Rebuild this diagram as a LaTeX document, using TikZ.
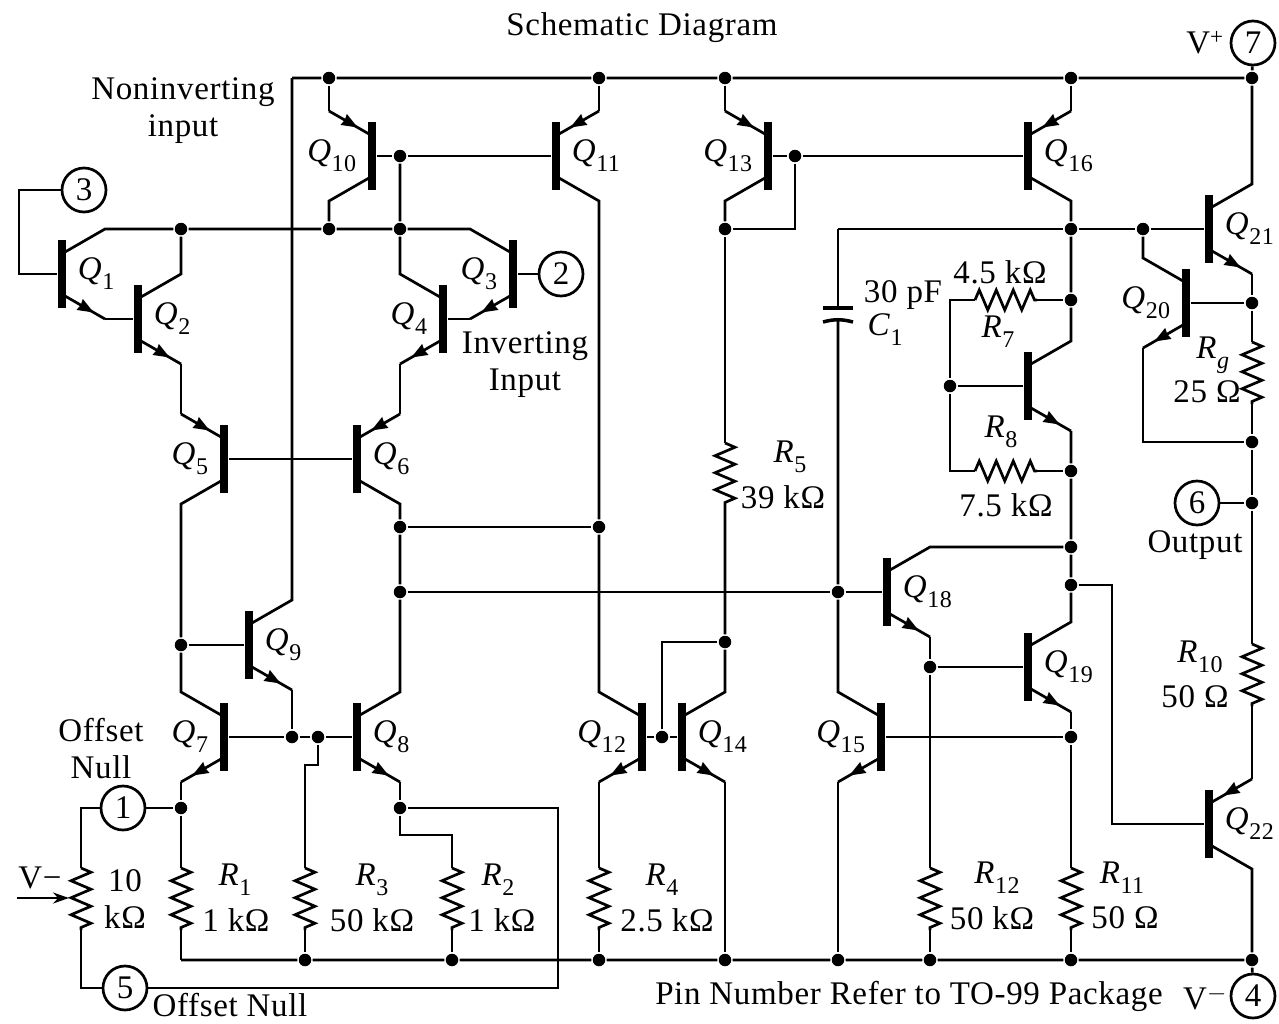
\documentclass[tikz,border=0pt]{standalone}
\usepackage{fontspec}
\setmainfont[LetterSpace=2]{Liberation Serif}
\usetikzlibrary{arrows.meta, decorations.markings, decorations.pathmorphing, positioning}
\tikzset{
    qbar/.style={rectangle, fill=black, minimum width=7.5pt, minimum height=68pt, inner sep=0pt},
    dot/.style={circle, fill=black, minimum size=12.5pt, inner sep=0pt},
    pinc/.style={circle, draw, fill=white, minimum size=44pt, inner sep=0pt},
    res/.style={decorate, decoration={zigzag, segment length=17pt, amplitude=10pt}},
    emit/.style={postaction={decorate}, decoration={markings, mark=at position .72 with {\arrow{Stealth[length=16pt,width=12pt,inset=1pt]}}}}
}
\newcommand{\qbar}[4]{
    \node[qbar] (#1) at (#2,#3) {};
    \coordinate (#1t) at (#2+#4*3,#3-22);
    \coordinate (#1u) at (#2+#4*43,#3-45);
    \coordinate (#1s) at (#2+#4*3,#3+22);
    \coordinate (#1d) at (#2+#4*43,#3+45);
}
\newcommand{\subs}[2]{\textit{#1}\raisebox{-.3em}{\fontsize{24}{24}\selectfont #2}}
\begin{document}
\begin{tikzpicture}[x=1pt, y=-1pt, line width=2.7pt, font=\fontsize{33}{37}\selectfont]
    \useasboundingbox (0,0) rectangle (1279,1023);

    \qbar{Q1}{62}{274}{1} \qbar{Q2}{138}{319}{1} \qbar{Q3}{513}{274}{-1} \qbar{Q4}{443}{319}{-1}
    \qbar{Q5}{224}{459}{-1} \qbar{Q6}{357}{459}{1} \qbar{Q7}{224}{737}{-1} \qbar{Q8}{357}{737}{1}
    \qbar{Q9}{249}{645}{1} \qbar{Q10}{372}{156}{-1} \qbar{Q11}{556}{156}{1} \qbar{Q12}{642}{737}{-1}
    \qbar{Q13}{768}{156}{-1} \qbar{Q14}{682}{737}{1} \qbar{Q15}{881}{737}{-1} \qbar{Q16}{1028}{156}{1}
    \qbar{Q17}{1028}{386}{1} \qbar{Q18}{887}{592}{1} \qbar{Q19}{1028}{667}{1} \qbar{Q20}{1186}{303}{-1}
    \qbar{Q21}{1209}{229}{1} \qbar{Q22}{1209}{824}{1}

    \foreach \n/\x/\y in {tA/329/78, tB/599/78, tC/725/78, tD/1071/78, tE/1252/78,
        bA/305/960, bB/452/960, bC/599/960, bD/725/960, bE/838/960, bF/930/960, bG/1071/960, bH/1252/960,
        nA/181/229, nB/329/229, nC/400/229, nD/725/229, nE/1071/229, nF/1143/229,
        dBase/400/156, dMirror/795/156, dLoadA/400/527, dLoadB/400/592, dLoadC/599/527,
        dNine/181/645, dBaseA/292/737, dBaseB/318/737, dNullA/181/808, dNullB/400/808,
        dFive/725/642, dPair/662/737, dComp/838/592, dDrive/930/667, dFeed/1071/300, dBias/950/386,
        dFeedB/1071/471, dTop/1071/547, dOut/1071/585, dSense/1071/737,
        dRgA/1252/303, dRgB/1252/442, dSix/1252/503}
        \node[dot] (\n) at (\x,\y) {};

    \foreach \n/\x in {P/81, 1/181, 3/305, 2/452, 4/599, 12/930, 11/1071} {
        \coordinate (r\n a) at (\x,868);
        \coordinate (r\n b) at (\x,930);
    }
    \coordinate (r5a) at (725,443);
    \coordinate (r5b) at (725,505);
    \coordinate (r7a) at (975,300);
    \coordinate (r7b) at (1037,300);
    \coordinate (r8a) at (975,471);
    \coordinate (r8b) at (1037,471);
    \coordinate (rga) at (1252,342);
    \coordinate (rgb) at (1252,404);
    \coordinate (r10a) at (1252,644);
    \coordinate (r10b) at (1252,706);

    \node[pinc] (pin3) at (84,190) {3};
    \node[pinc] (pin2) at (561,274) {2};
    \node[pinc] (pin1) at (123,808) {1};
    \node[pinc] (pin5) at (125,988) {5};
    \node[pinc] (pin7) at (1253,43) {7};
    \node[pinc] (pin6) at (1197,503) {6};
    \node[pinc] (pin4) at (1253,996) {4};

    \coordinate (railT) at (292,78);
    \coordinate (railB) at (181,960);
    \coordinate (inA) at (19,274);
    \coordinate (inB) at (19,190);
    \coordinate (gateA) at (662,642);
    \coordinate (gateB) at (795,229);
    \coordinate (capT) at (838,229);
    \coordinate (capA) at (838,308);
    \coordinate (capB) at (838,321);
    \coordinate (capC) at (823,308);
    \coordinate (capD) at (853,308);
    \coordinate (capE) at (823,322);
    \coordinate (capF) at (853,322);
    \coordinate (fbA) at (950,300);
    \coordinate (fbB) at (950,471);
    \coordinate (outA) at (1112,585);
    \coordinate (outB) at (1112,824);
    \coordinate (sixA) at (1143,442);
    \coordinate (potA) at (81,808);
    \coordinate (potB) at (81,988);
    \coordinate (nullA) at (558,988);
    \coordinate (nullB) at (558,808);
    \coordinate (twoA) at (400,835);
    \coordinate (twoB) at (452,835);
    \coordinate (threeA) at (318,765);
    \coordinate (threeB) at (305,765);
    \coordinate (wiperA) at (17,898);
    \coordinate (wiperB) at (69,898);

    \draw (railT) -- (tA) -- (tB) -- (tC) -- (tD) -- (tE) -- (pin7);
    \draw (railB) -- (bA) -- (bB) -- (bC) -- (bD) -- (bE) -- (bF) -- (bG) -- (bH) -- (pin4);
    \draw (Q1t) -- (Q1u) -- (nA) -- (nB) -- (nC) -- (Q3u) -- (Q3t);
    \draw (Q1) -- (inA) -- (inB) -- (pin3);
    \draw (Q1d) -- (Q2);
    \draw (Q2t) -- (Q2u) -- (nA);
    \draw (Q2d) -- (Q5u);
    \draw (Q5) -- (Q6);
    \draw (Q5s) -- (Q5d) -- (dNine) -- (Q7u) -- (Q7t);
    \draw (dNine) -- (Q9);
    \draw (Q9t) -- (Q9u) -- (railT);
    \draw (Q9d) -- (dBaseA);
    \draw (Q7) -- (dBaseA) -- (dBaseB) -- (Q8);
    \draw (Q7d) -- (dNullA);
    \draw (Q8t) -- (Q8u) -- (dLoadB) -- (dLoadA) -- (Q6d) -- (Q6s);
    \draw (Q6u) -- (Q4d);
    \draw (Q4t) -- (Q4u) -- (nC) -- (dBase);
    \draw (Q4) -- (Q3d);
    \draw (Q3) -- (pin2);
    \draw (tA) -- (Q10u);
    \draw (Q10) -- (dBase) -- (Q11);
    \draw (Q10s) -- (Q10d) -- (nB);
    \draw (tB) -- (Q11u);
    \draw (Q11s) -- (Q11d) -- (dLoadC) -- (Q12u) -- (Q12t);
    \draw (dLoadA) -- (dLoadC);
    \draw (dLoadB) -- (dComp) -- (Q18);
    \draw (Q12) -- (dPair) -- (Q14);
    \draw (Q12d) -- (r4a);
    \draw (dPair) -- (gateA) -- (dFive);
    \draw (Q14t) -- (Q14u) -- (dFive) -- (r5b);
    \draw (r5a) -- (nD);
    \draw (Q14d) -- (bD);
    \draw (tC) -- (Q13u);
    \draw (Q13) -- (dMirror) -- (Q16);
    \draw (dMirror) -- (gateB) -- (nD);
    \draw (Q13s) -- (Q13d) -- (nD);
    \draw (tD) -- (Q16u);
    \draw (Q16s) -- (Q16d) -- (nE);
    \draw (capT) -- (nE) -- (nF) -- (Q21);
    \draw (capT) -- (capA);
    \draw[line width=3.5pt] (capC) -- (capD);
    \draw[line width=3.5pt] (capE) to[bend left=15] (capF);
    \draw (capB) -- (dComp) -- (Q15u) -- (Q15t);
    \draw (Q15) -- (dSense);
    \draw (Q15d) -- (bE);
    \draw (nE) -- (dFeed) -- (Q17u) -- (Q17t);
    \draw (Q17d) -- (dFeedB) -- (dTop) -- (dOut) -- (Q19u) -- (Q19t);
    \draw (dFeed) -- (r7b);
    \draw (r7a) -- (fbA) -- (dBias) -- (fbB) -- (r8a);
    \draw (r8b) -- (dFeedB);
    \draw (dBias) -- (Q17);
    \draw (Q18t) -- (Q18u) -- (dTop);
    \draw (Q18d) -- (dDrive) -- (r12a);
    \draw (dDrive) -- (Q19);
    \draw (r12b) -- (bF);
    \draw (Q19d) -- (dSense) -- (r11a);
    \draw (r11b) -- (bG);
    \draw (dOut) -- (outA) -- (outB) -- (Q22);
    \draw (Q21t) -- (Q21u) -- (tE);
    \draw (Q21d) -- (dRgA) -- (rga);
    \draw (rgb) -- (dRgB) -- (dSix) -- (r10a);
    \draw (r10b) -- (Q22u);
    \draw (Q22s) -- (Q22d) -- (bH);
    \draw (nF) -- (Q20u) -- (Q20t);
    \draw (Q20) -- (dRgA);
    \draw (Q20d) -- (sixA) -- (dRgB);
    \draw (pin6) -- (dSix);
    \draw (pin1) -- (dNullA) -- (r1a);
    \draw (r1b) -- (railB);
    \draw (pin1) -- (potA) -- (rPa);
    \draw (rPb) -- (potB) -- (pin5);
    \draw (pin5) -- (nullA) -- (nullB) -- (dNullB);
    \draw (Q8d) -- (dNullB) -- (twoA) -- (twoB) -- (r2a);
    \draw (r2b) -- (bB);
    \draw (dBaseB) -- (threeA) -- (threeB) -- (r3a);
    \draw (r3b) -- (bA);
    \draw (r4b) -- (bC);
    \draw[-{Stealth[length=16pt,width=11pt]}] (wiperA) -- (wiperB);

    \foreach \n in {P,1,2,3,4,5,7,8,10,11,12} \draw[res] (r\n a) -- (r\n b);
    \draw[res] (rga) -- (rgb);

    \draw[emit] (Q1s) -- (Q1d);
    \draw[emit] (Q2s) -- (Q2d);
    \draw[emit] (Q3s) -- (Q3d);
    \draw[emit] (Q4s) -- (Q4d);
    \draw[emit] (Q7s) -- (Q7d);
    \draw[emit] (Q8s) -- (Q8d);
    \draw[emit] (Q9s) -- (Q9d);
    \draw[emit] (Q12s) -- (Q12d);
    \draw[emit] (Q14s) -- (Q14d);
    \draw[emit] (Q15s) -- (Q15d);
    \draw[emit] (Q17s) -- (Q17d);
    \draw[emit] (Q18s) -- (Q18d);
    \draw[emit] (Q19s) -- (Q19d);
    \draw[emit] (Q20s) -- (Q20d);
    \draw[emit] (Q21s) -- (Q21d);
    \draw[emit] (Q5u) -- (Q5t);
    \draw[emit] (Q6u) -- (Q6t);
    \draw[emit] (Q10u) -- (Q10t);
    \draw[emit] (Q11u) -- (Q11t);
    \draw[emit] (Q13u) -- (Q13t);
    \draw[emit] (Q16u) -- (Q16t);
    \draw[emit] (Q22u) -- (Q22t);

    \foreach \n in {1,2,6,8,9,11,14,16,18,19,21,22}
        \node[right=6pt of Q\n] (lQ\n) {\subs{Q}{\n}};
    \foreach \n in {3,4,5,7,10,12,13,15,20}
        \node[left=6pt of Q\n] (lQ\n) {\subs{Q}{\n}};

    \node (title) at (642,28) {Schematic Diagram};
    \node[align=center] (noninv) at (183,111) {Noninverting\\input};
    \node[align=center] (inv) at (525,365) {Inverting\\Input};
    \node[align=center] (nullL) at (101,749) {Offset\\Null};
    \node (nullR) at (230,1005) {Offset Null};
    \node (vminusL) at (40,878) {V−};
    \node[align=center] (potval) at (125,899) {10\\kΩ};
    \node (lR1) at (235,880) {\subs{R}{1}};
    \node (vR1) at (236,920) {1 kΩ};
    \node (lR3) at (372,880) {\subs{R}{3}};
    \node (vR3) at (372,920) {50 kΩ};
    \node (lR2) at (498,880) {\subs{R}{2}};
    \node (vR2) at (502,920) {1 kΩ};
    \node (lR4) at (662,880) {\subs{R}{4}};
    \node (vR4) at (667,920) {2.5 kΩ};
    \node (lR5) at (790,457) {\subs{R}{5}};
    \node (vR5) at (783,497) {39 kΩ};
    \node (vC1) at (903,295) {30 pF};
    \node (lC1) at (885,330) {\subs{C}{1}};
    \node (vR7) at (1000,272) {4.5 kΩ};
    \node (lR7) at (998,332) {\subs{R}{7}};
    \node (lR8) at (1001,432) {\subs{R}{8}};
    \node (vR8) at (1006,505) {7.5 kΩ};
    \node (lRg) at (1213,355) {\subs{R}{\textit{g}}};
    \node (vRg) at (1207,392) {25 Ω};
    \node (output) at (1195,545) {Output};
    \node (lR10) at (1200,657) {\subs{R}{10}};
    \node (vR10) at (1195,697) {50 Ω};
    \node (lR12) at (997,878) {\subs{R}{12}};
    \node (vR12) at (992,918) {50 kΩ};
    \node (lR11) at (1122,878) {\subs{R}{11}};
    \node (vR11) at (1125,918) {50 Ω};
    \node (note) at (909,996) {Pin Number Refer to TO-99 Package};
    \node (vminusR) at (1205,998) {V$^{-}$};
    \node (vplus) at (1205,43) {V\textsuperscript{+}};
\end{tikzpicture}
\end{document}
